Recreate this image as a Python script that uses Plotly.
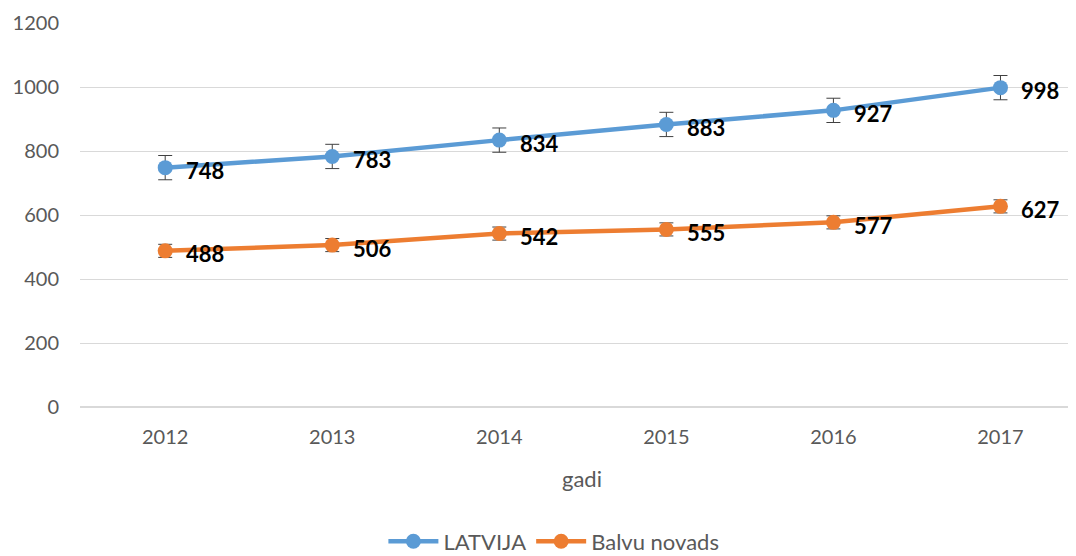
import numpy as np
import plotly.graph_objects as go

years = [2012, 2013, 2014, 2015, 2016, 2017]
latvija = [748, 783, 834, 883, 927, 998]
balvu = [488, 506, 542, 555, 577, 627]
series_names = ["LATVIJA", "Balvu novads"]
colors = ["#5B9BD5", "#ED7D31"]
y_ticks = [0, 200, 400, 600, 800, 1000, 1200]

FONT = "Lato, 'Open Sans', sans-serif"
GREY = "#595959"
fig = go.Figure()
for name, vals, col in zip(series_names, [latvija, balvu], colors):
    arr = np.array(vals, dtype=float)
    std_err = float(arr.std(ddof=1) / np.sqrt(len(arr)))  # Excel "Standard Error" bars
    fig.add_trace(go.Scatter(
        x=years, y=vals, name=name, mode="lines+markers",
        line=dict(color=col, width=4.5),
        marker=dict(color=col, size=15),
        error_y=dict(type="constant", value=std_err, color="#404040", thickness=1, width=7),
    ))
    for xv, yv in zip(years, vals):
        fig.add_annotation(x=xv, y=yv, xref="x", yref="y", text=f"<b>{yv}</b>",
                           showarrow=False, xanchor="left", yanchor="middle",
                           xshift=19, yshift=-3,
                           font=dict(family=FONT, size=22, color="#000000"))

fig.update_layout(
    width=1076, height=556,
    margin=dict(l=72, r=0, t=15, b=157, autoexpand=False),
    paper_bgcolor="white", plot_bgcolor="white",
    font=dict(family=FONT, size=20, color=GREY),
    showlegend=True,
    legend=dict(orientation="h", x=0.472, xanchor="center", y=-0.35, yanchor="middle",
                itemwidth=50, font=dict(size=22, color=GREY)),
    xaxis=dict(range=[2011.49, 2017.5], tickvals=years, showgrid=False, ticks="",
               zeroline=False, ticklabelstandoff=16, automargin=False,
               title=dict(text="gadi", font=dict(size=22, color=GREY), standoff=24),
               tickfont=dict(size=20, color=GREY)),
    yaxis=dict(range=[0, 1200], tickvals=y_ticks, showgrid=True, gridcolor="#D9D9D9",
               gridwidth=1, zeroline=True, zerolinecolor="#D9D9D9", ticks="",
               ticklabelstandoff=20, automargin=False,
               tickfont=dict(size=20, color=GREY)),
)
fig.write_html("out.html")
